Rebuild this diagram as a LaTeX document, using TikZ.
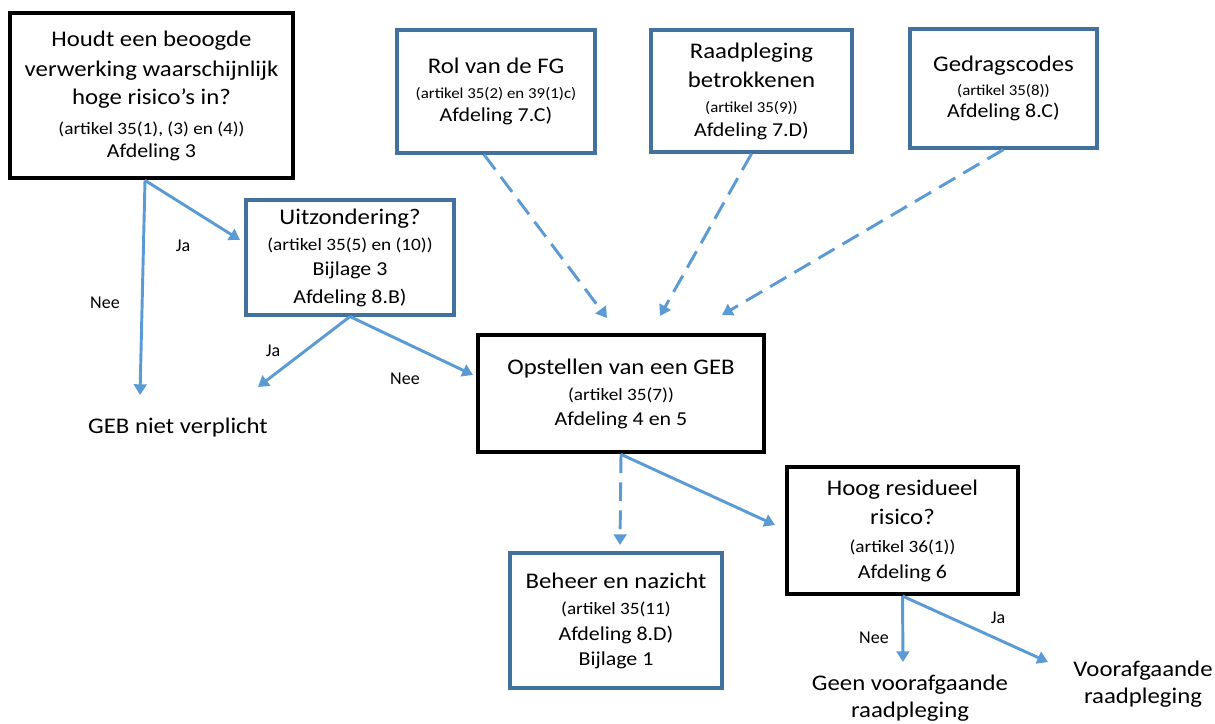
\documentclass[tikz,border=0pt]{standalone}
\usepackage{fontspec}
\setmainfont{Carlito}[FakeStretch=1.11]
\newfontfamily\keuzefont{Carlito}
\usetikzlibrary{arrows.meta,calc}
\definecolor{kaderblauw}{RGB}{65,113,156}
\definecolor{pijlblauw}{RGB}{91,155,213}
\newcommand{\groot}{\fontsize{16.75}{18}\selectfont}
\newcommand{\middel}{\fontsize{14.8}{18}\selectfont}
\newcommand{\klein}{\fontsize{13}{18}\selectfont}
\newcommand{\tklein}{\fontsize{11.4}{18}\selectfont}

\begin{document}
\begin{tikzpicture}[x=0.75pt,y=-0.75pt,
  vraag/.style={draw=black,line width=3.3pt,align=center,inner sep=2pt,
    font={\groot\lineskiplimit=-40pt\relax}},
  info/.style={draw=kaderblauw,line width=2.6pt,align=center,inner sep=2pt,
    font={\groot\lineskiplimit=-40pt\relax}},
  uitkomst/.style={align=center,inner sep=0pt,
    font={\groot\lineskiplimit=-40pt\relax}},
  keuze/.style={inner sep=0pt,font=\keuzefont\fontsize{13.5}{15}\selectfont},
  pijl/.style={draw=pijlblauw,line width=2.2pt,-{Triangle[length=8pt,width=9.5pt]}},
  stippel/.style={pijl,dash pattern=on 14pt off 7pt}]
\path[fill=white,use as bounding box] (0,0) rectangle (1215,724);

% vragen
\node[vraag,minimum width=212pt,minimum height=124pt] (houdt) at (151.5,95.5)
  {Houdt een beoogde\\[4.5pt] verwerking waarschijnlijk\\[3pt] hoge risico’s in?\\[4.5pt]
   {\klein (artikel 35(1), (3) en (4))}\\[-0.75pt] {\middel Afdeling 3}};
\node[info,minimum width=156pt,minimum height=86pt] (uitz) at (350,257.5)
  {Uitzondering?\\[1.5pt] {\klein (artikel 35(5) en (10))}\\[0.75pt]
   {\middel Bijlage 3}\\[3pt] {\middel Afdeling 8.B)}};
\node[vraag,minimum width=214.5pt,minimum height=88pt] (opst) at (621,393.5)
  {Opstellen van een GEB\\[1.5pt] {\klein (artikel 35(7))}\\[0.75pt] {\middel Afdeling 4 en 5}};
\node[info,minimum width=159pt,minimum height=101pt] (beheer) at (616,620.5)
  {Beheer en nazicht\\[1.5pt] {\klein (artikel 35(11)}\\[1.5pt]
   {\middel Afdeling 8.D)}\\[0.75pt] {\middel Bijlage 1}};
\node[vraag,minimum width=173pt,minimum height=95pt] (hoog) at (902.5,530.5)
  {Hoog residueel\\[3.75pt] risico?\\[3pt] {\klein (artikel 36(1))}\\[1.5pt] {\middel Afdeling 6}};

% bovenste rij
\node[info,minimum width=148.5pt,minimum height=92pt] (fg) at (496,91.5)
  {Rol van de FG\\[0.75pt] {\tklein (artikel 35(2) en 39(1)c)}\\[-0.75pt] {\middel Afdeling 7.C)}};
\node[info,minimum width=151pt,minimum height=91.5pt] (raad) at (751.5,91)
  {Raadpleging\\[3.75pt] betrokkenen\\[0.75pt] {\tklein (artikel 35(9))}\\ {\middel Afdeling 7.D)}};
\node[info,minimum width=140pt,minimum height=89pt] (gedrag) at (1003.5,88.5)
  {Gedragscodes\\ {\tklein (artikel 35(8))}\\[-1.5pt] {\middel Afdeling 8.C)}};

% uitkomsten
\node[uitkomst] (geb) at (178,428) {GEB niet verplicht};
\node[uitkomst] (geen) at (910,698.5) {Geen voorafgaande\\[2.25pt] raadpleging};
\node[uitkomst] (voor) at (1143,684.5) {Voorafgaande\\[2.25pt] raadpleging};

% eindpunten
\coordinate (geb-in) at (140,395);
\coordinate (uitz-in) at (240,240);
\coordinate (geb-in2) at (258,387);
\coordinate (opst-in) at (473,375);
\coordinate (opst-fg) at (607,318);
\coordinate (opst-raad) at (660,316);
\coordinate (opst-gedrag) at (722,315);
\coordinate (beheer-in) at (620,545);
\coordinate (hoog-in) at (775,525);
\coordinate (geen-in) at (903,662);
\coordinate (voor-in) at (1048,662);

% pijlen
\draw[pijl] ($(houdt.south)+(-6.5,0)$) -- (geb-in);
\draw[pijl] ($(houdt.south)+(-6.5,0)$) -- (uitz-in);
\draw[pijl] (uitz.south) -- (geb-in2);
\draw[pijl] (uitz.south) -- (opst-in);
\draw[stippel] ($(fg.south)+(-12,0)$) -- (opst-fg);
\draw[stippel] (raad.south) -- (opst-raad);
\draw[stippel] (gedrag.south) -- (opst-gedrag);
\draw[stippel] (opst.south) -- (beheer-in);
\draw[pijl] (opst.south) -- (hoog-in);
\draw[pijl] (hoog.south) -- (geen-in);
\draw[pijl] (hoog.south) -- (voor-in);

% labels
\node[keuze] (nee1) at (105,303) {Nee};
\node[keuze] (ja1) at (183,246) {Ja};
\node[keuze] (ja2) at (273,351) {Ja};
\node[keuze] (nee2) at (405,379) {Nee};
\node[keuze] (nee3) at (874,638) {Nee};
\node[keuze] (ja3) at (998,618) {Ja};
\end{tikzpicture}
\end{document}
